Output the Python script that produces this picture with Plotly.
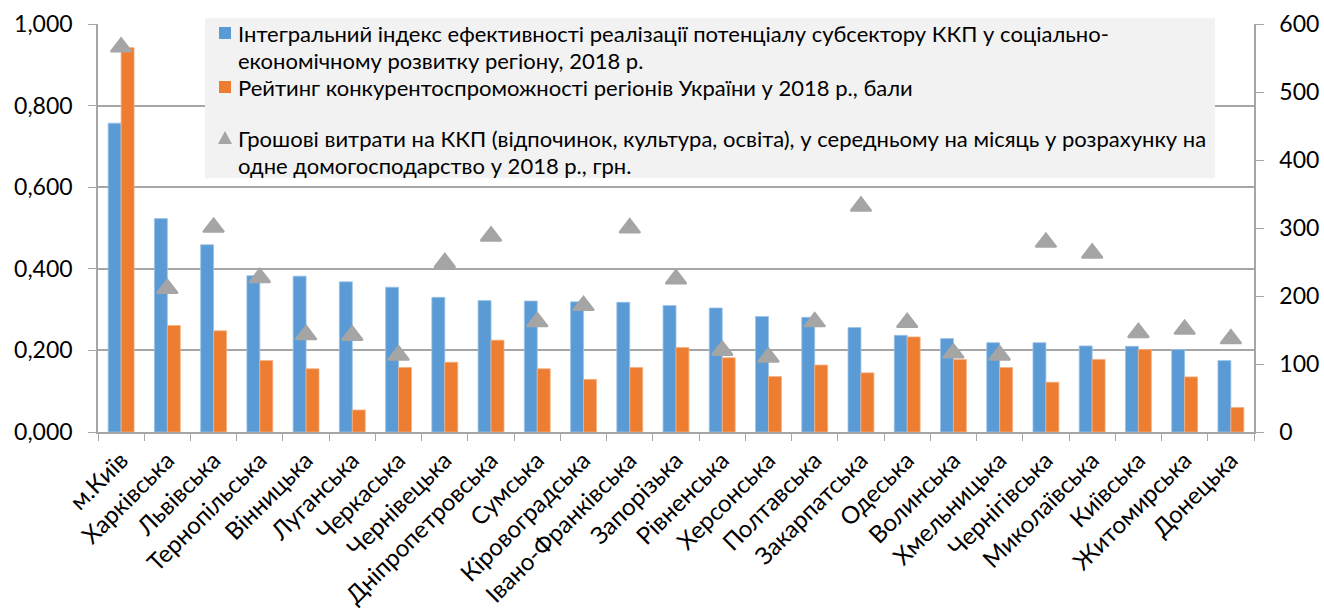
import plotly.graph_objects as go

# Regions of Ukraine, ordered by the integral index
regions = [
    "м.Київ", "Харківська", "Львівська", "Тернопільська", "Вінницька",
    "Луганська", "Черкаська", "Чернівецька", "Дніпропетровська", "Сумська",
    "Кіровоградська", "Івано-Франківська", "Запорізька", "Рівненська",
    "Херсонська", "Полтавська", "Закарпатська", "Одеська", "Волинська",
    "Хмельницька", "Чернігівська", "Миколаївська", "Київська",
    "Житомирська", "Донецька",
]

# Integral index of the CCI subsector potential (left axis)
integral_index = [
    0.757, 0.523, 0.459, 0.383, 0.382, 0.368, 0.355, 0.330, 0.322, 0.321,
    0.319, 0.318, 0.310, 0.304, 0.283, 0.281, 0.256, 0.237, 0.229, 0.219,
    0.219, 0.211, 0.210, 0.202, 0.175,
]

# Regional competitiveness rating, points (left axis)
competitiveness = [
    0.942, 0.261, 0.248, 0.175, 0.155, 0.054, 0.158, 0.171, 0.225, 0.155,
    0.129, 0.158, 0.207, 0.182, 0.136, 0.164, 0.145, 0.233, 0.178, 0.158,
    0.122, 0.178, 0.202, 0.135, 0.060,
]

# Monthly household spending on CCI, UAH (right axis)
spending = [
    566, 211, 301, 227, 143, 142, 113, 249, 288, 162,
    186, 300, 225, 120, 110, 162, 332, 161, 116, 113,
    279, 263, 146, 151, 137,
]

left_ticks = [0.0, 0.2, 0.4, 0.6, 0.8, 1.0]
left_tick_text = ["0,000", "0,200", "0,400", "0,600", "0,800", "1,000"]
right_ticks = [0, 100, 200, 300, 400, 500, 600]

series_names = [
    ["Інтегральний індекс ефективності реалізації потенціалу субсектору ККП у соціально-",
     "економічному розвитку регіону, 2018 р."],
    ["Рейтинг конкурентоспроможності регіонів України у 2018 р., бали"],
    ["Грошові витрати на ККП (відпочинок, культура, освіта), у середньому на місяць у розрахунку на",
     "одне домогосподарство у 2018 р., грн."],
]

BLUE, ORANGE, GREY = "#5B9BD5", "#ED7D31", "#A5A5A5"
FONT = "Lato"
GRID = "#A6A6A6"

W, H = 1324, 613
ML, MR, MT, MB = 98, 70, 24, 181
PW, PH = W - ML - MR, H - MT - MB


def px(x):
    """Pixel column -> paper x."""
    return (x - ML) / PW


def py(y):
    """Pixel row (from top) -> paper y."""
    return (H - MB - y) / PH


fig = go.Figure()

fig.add_trace(go.Bar(
    x=regions, y=integral_index, name=" ".join(series_names[0]),
    marker=dict(color=BLUE, line=dict(color="#9DC3E6", width=0.8)),
))
fig.add_trace(go.Bar(
    x=regions, y=competitiveness, name=series_names[1][0],
    marker=dict(color=ORANGE, line=dict(color="#F4B183", width=0.8)),
))
fig.add_trace(go.Scatter(
    x=regions, y=spending, yaxis="y2", mode="markers",
    name=" ".join(series_names[2]),
    marker=dict(symbol="triangle-up", size=18, color=GREY,
                line=dict(color=GREY, width=2)),
))

# Legend box drawn over the plot area
shapes = [dict(type="rect", xref="paper", yref="paper", layer="above",
               x0=px(205), x1=px(1215), y0=py(178), y1=py(18),
               fillcolor="#F2F2F2", line=dict(width=0))]
annotations = []
line_rows = [[33, 60], [87], [138, 165]]
for k, (names, rows) in enumerate(zip(series_names, line_rows)):
    yc = rows[0]
    if k < 2:
        shapes.append(dict(type="rect", xref="paper", yref="paper", layer="above",
                           x0=px(219), x1=px(231), y0=py(yc + 6), y1=py(yc - 6),
                           fillcolor=[BLUE, ORANGE][k], line=dict(width=0)))
    else:
        path = "M {:.5f},{:.5f} L {:.5f},{:.5f} L {:.5f},{:.5f} Z".format(
            px(218), py(yc + 6), px(232), py(yc + 6), px(225), py(yc - 7))
        shapes.append(dict(type="path", xref="paper", yref="paper", layer="above",
                           path=path, fillcolor=GREY, line=dict(width=0)))
    for text, row in zip(names, rows):
        annotations.append(dict(
            text=text, xref="paper", yref="paper", x=px(236), y=py(row),
            xanchor="left", yanchor="middle", showarrow=False,
            font=dict(family=FONT, size=22, color="#000000"),
        ))

fig.update_layout(
    width=W, height=H,
    margin=dict(l=ML, r=MR, t=MT, b=MB),
    plot_bgcolor="white", paper_bgcolor="white",
    font=dict(family=FONT, color="#000000"),
    barmode="group", bargap=0.44, bargroupgap=0,
    showlegend=False,
    shapes=shapes, annotations=annotations,
    xaxis=dict(
        type="category", tickangle=-45, range=[-0.5, len(regions) - 0.5],
        tickfont=dict(family=FONT, size=24, color="#000000"),
        showline=True, linecolor=GRID, linewidth=1.5,
        ticks="outside", tickson="boundaries", ticklen=7, tickcolor=GRID,
        ticklabelstandoff=3,
        showgrid=False, automargin=False,
    ),
    yaxis=dict(
        range=[0, 1.0], tickvals=left_ticks, ticktext=left_tick_text,
        tickfont=dict(family=FONT, size=23, color="#000000"),
        showline=True, linecolor=GRID, linewidth=1.5,
        ticks="outside", ticklen=8, tickcolor=GRID, ticklabelstandoff=11,
        showgrid=True, gridcolor=GRID, gridwidth=1.5,
        zeroline=False, automargin=False,
    ),
    yaxis2=dict(
        range=[0, 600], tickvals=right_ticks, overlaying="y", side="right",
        tickfont=dict(family=FONT, size=23, color="#000000"),
        showline=True, linecolor=GRID, linewidth=1.5,
        ticks="outside", ticklen=8, tickcolor=GRID, ticklabelstandoff=11,
        showgrid=False, zeroline=False, automargin=False,
    ),
)

fig.write_html("out.html")
